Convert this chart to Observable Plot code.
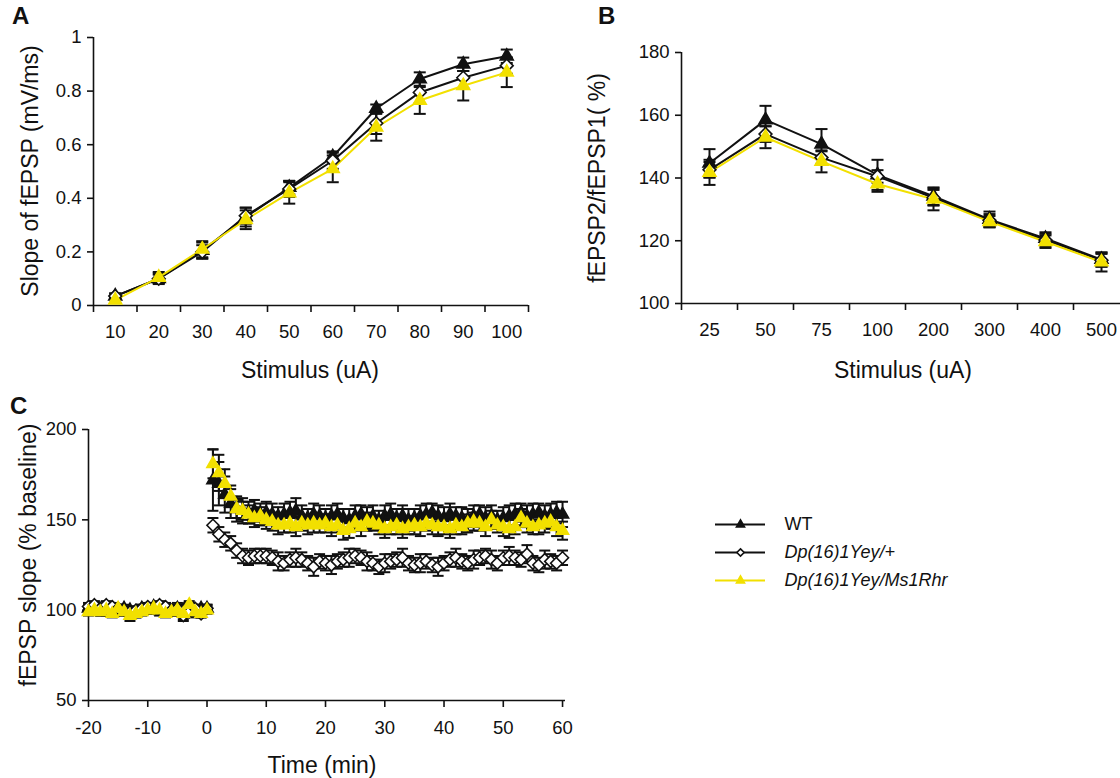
<!DOCTYPE html>
<html><head><meta charset="utf-8">
<script src="https://cdn.jsdelivr.net/npm/d3@7"></script>
<script src="https://cdn.jsdelivr.net/npm/@observablehq/plot@0.6"></script>
<style>
html,body{margin:0;padding:0;background:#fff;overflow:hidden;width:1120px;height:778px}
#root{position:relative;width:1120px;height:778px;font-family:"Liberation Sans",Arial,sans-serif;color:#111;overflow:hidden}
.wrap{position:absolute}
.title{position:absolute;font-size:23px;transform:translate(-50%,-50%);white-space:nowrap}
.ytitle{position:absolute;font-size:23px;transform:translate(-50%,-50%) rotate(-90deg);white-space:nowrap}
.letter{position:absolute;font-size:24px;font-weight:bold}
</style></head><body><div id="root"></div>
<script>
// ---------- DATA ----------
const seriesNames = ["WT", "Dp(16)1Yey/+", "Dp(16)1Yey/Ms1Rhr"];

// Panel A: input-output
const catsA = ["10","20","30","40","50","60","70","80","90","100"];
const yTicksA = [0, 0.2, 0.4, 0.6, 0.8, 1];
const wtA    = [0.035,0.10,0.205,0.33,0.44,0.555,0.735,0.845,0.90,0.93];
const wtAerr = [0.01,0.015,0.03,0.035,0.025,0.02,0.015,0.025,0.025,0.025];
const dpA    = [0.035,0.10,0.20,0.335,0.435,0.54,0.68,0.795,0.85,0.895];
const dpAerr = [0.01,0.02,0.025,0.03,0.03,0.03,0.04,0.04,0.04,0.03];
const msA    = [0.02,0.105,0.21,0.32,0.42,0.51,0.665,0.765,0.82,0.87];
const msAerr = [0.01,0.02,0.03,0.035,0.04,0.05,0.05,0.05,0.055,0.055];

// Panel B: paired-pulse
const catsB = ["25","50","75","100","200","300","400","500"];
const yTicksB = [100, 120, 140, 160, 180];
const wtB    = [144.7,158.5,150.8,141,134.2,126.8,120.7,114];
const wtBerr = [4.5,4.5,4.8,4.8,2.8,2.5,2,2.3];
const dpB    = [142.6,154,146.5,140.5,133.7,126.5,120.2,113.8];
const dpBerr = [2.5,2.5,2,2,2.5,2,2,2];
const msB    = [141.8,153,145.3,138.1,133.2,126.1,119.7,113.2];
const msBerr = [4,3.5,3.5,2.5,3.5,1.8,2,3];

// Panel C: LTP time course
const xTicksC = [-20,-10,0,10,20,30,40,50,60];
const yTicksC = [50,100,150,200];
const timeC = [-20,-19,-18,-17,-16,-15,-14,-13,-12,-11,-10,-9,-8,-7,-6,-5,-4,-3,-2,-1,0,
  1,2,3,4,5,6,7,8,9,10,11,12,13,14,15,16,17,18,19,20,21,22,23,24,25,26,27,28,29,30,
  31,32,33,34,35,36,37,38,39,40,41,42,43,44,45,46,47,48,49,50,51,52,53,54,55,56,57,58,59,60];
const wtC = [101,102,100,101,99,100,101,100,99,101,100,102,101,100,99,101,100,102,99,101,101,
  172,170,164,159,156,155,154,155,153,154,
  153,152,153,154,155,152,151,153,152,151,
  152,153,151,150,152,153,151,152,150,152,
  153,151,152,150,151,152,153,154,152,151,
  153,152,151,150,152,153,151,152,150,151,
  152,153,154,152,153,154,152,153,154,153];
const wtCerr = [2,2,3,2,2,3,2,2,3,2,2,2,3,2,2,3,2,2,3,2,2,
  17,12,10,8,7,7,6,6,6,6,
  6,5,6,6,7,6,5,6,6,5,
  6,6,5,6,6,5,6,6,5,6,
  6,5,6,6,5,6,6,5,6,6,
  6,5,6,6,6,5,6,6,5,6,
  6,6,5,6,6,5,6,6,6,7];
const dpC = [102,103,101,103,102,101,100,99,100,101,102,101,103,102,100,101,97,99,101,98,101,
  147,142,139,137,133,130,129,130,130,130,
  129,127,126,128,129,128,126,124,127,126,
  125,127,128,129,130,129,127,126,124,126,
  127,128,129,126,125,126,127,125,124,126,
  128,129,127,126,128,129,130,128,126,129,
  130,129,128,131,126,125,128,127,126,129];
const dpCerr = [2,2,2,2,2,2,2,2,2,2,2,2,2,2,2,2,3,2,2,2,2,
  4,4,4,4,4,4,4,4,4,4,
  4,5,4,4,5,4,4,5,4,4,
  5,4,4,5,4,4,5,4,4,5,
  4,4,5,4,4,5,4,4,5,4,
  4,5,4,4,5,4,4,5,4,4,
  5,4,4,5,4,4,5,4,4,4];
const msC = [99,100,99,100,98,101,99,97,98,99,100,101,100,98,99,100,98,103,99,98,100,
  181,176,170,163,156,155,153,151,152,150,
  149,147,147,148,146,148,147,148,147,148,
  146,147,144,145,148,146,149,148,147,145,
  146,147,145,146,147,146,148,147,146,146,
  145,147,146,148,149,148,146,150,147,146,
  145,146,151,148,146,147,148,149,146,144];
const msCerr = [2,2,2,3,2,2,2,3,2,2,2,2,3,2,2,2,3,2,2,2,2,
  8,10,8,6,5,5,5,5,5,5,
  5,5,4,5,5,4,5,5,4,5,
  5,4,5,5,4,5,5,4,5,5,
  4,5,5,4,5,5,4,5,5,4,
  5,5,4,5,5,4,5,5,4,5,
  5,4,5,5,4,5,5,4,5,5];

// ---------- STYLE ----------
const YELLOW = "#f2e000";
const INK = "#111";
const TICKFS = 18.5;
const styles = {
  "WT": {line: INK, symbol: "triangle", fill: INK, stroke: INK, k: 1},
  "Dp(16)1Yey/+": {line: INK, symbol: "diamond2", fill: "#fff", stroke: INK, k: 1.2},
  "Dp(16)1Yey/Ms1Rhr": {line: YELLOW, symbol: "triangle", fill: YELLOW, stroke: YELLOW, k: 1}
};
const FONT = '"Liberation Sans", Arial, sans-serif';
const capSymbol = hw => ({draw(ctx) { ctx.moveTo(-hw, 0); ctx.lineTo(hw, 0); }});

function rows(xs, vals, errs, key) {
  return vals.map((v, i) => ({x: xs[i], y: v, lo: v - errs[i], hi: v + errs[i], key}));
}

function seriesMarks(data, {withLine, r, capHW, markerStroke}) {
  const m = [];
  const cap = capSymbol(capHW);
  for (const d of data) {
    m.push(Plot.ruleX(d, {x: "x", y1: "lo", y2: "hi", stroke: INK, strokeWidth: 2}));
    m.push(Plot.dot(d, {x: "x", y: "hi", symbol: cap, r: 3, fill: "none", stroke: INK, strokeWidth: 2}));
    m.push(Plot.dot(d, {x: "x", y: "lo", symbol: cap, r: 3, fill: "none", stroke: INK, strokeWidth: 2}));
  }
  if (withLine) for (const d of data) {
    const s = styles[d[0].key];
    m.push(Plot.line(d, {x: "x", y: "y", stroke: s.line, strokeWidth: 2}));
  }
  for (const d of data) {
    const s = styles[d[0].key];
    m.push(Plot.dot(d, {x: "x", y: "y", symbol: s.symbol, r: r * s.k, fill: s.fill, stroke: s.stroke, strokeWidth: markerStroke}));
  }
  return m;
}

const root = document.getElementById("root");
function place(el, left, top, w) {
  const div = document.createElement("div");
  div.className = "wrap";
  div.style.left = left + "px"; div.style.top = top + "px"; div.style.width = w + "px";
  div.appendChild(el); root.appendChild(div);
}
function addText(cls, text, x, y, extra) {
  const d = document.createElement("div");
  d.className = cls; d.textContent = text;
  d.style.left = x + "px"; d.style.top = y + "px";
  if (extra) Object.assign(d.style, extra);
  root.appendChild(d);
}
const svgStyle = {fontFamily: FONT, fontSize: TICKFS + "px", color: INK, background: "transparent", overflow: "visible"};

// ---------- PANEL A ----------
{
  const xs = catsA.map((c, i) => i + 1);
  const data = [rows(xs, wtA, wtAerr, "WT"), rows(xs, dpA, dpAerr, "Dp(16)1Yey/+"), rows(xs, msA, msAerr, "Dp(16)1Yey/Ms1Rhr")];
  const bounds = d3.range(0.5, catsA.length + 1, 1);
  const p = Plot.plot({
    width: 560, height: 360,
    marginLeft: 93, marginRight: 32, marginTop: 37, marginBottom: 55,
    style: svgStyle,
    x: {domain: [0.5, catsA.length + 0.5]},
    y: {domain: [0, 1]},
    marks: [
      Plot.axisY({ticks: yTicksA, tickSize: 6, tickPadding: 6, tickFormat: d => String(d), label: null, strokeWidth: 1.6, fontSize: TICKFS}),
      Plot.axisX({ticks: bounds, tickSize: 7, tickFormat: () => "", label: null, strokeWidth: 1.6}),
      Plot.axisX({ticks: xs, tickSize: 0, tickPadding: 19, tickFormat: i => catsA[i - 1], label: null, fontSize: TICKFS}),
      Plot.ruleY([0], {stroke: INK, strokeWidth: 1.6}),
      Plot.ruleX([0.5], {y1: 0, y2: 1, stroke: INK, strokeWidth: 1.6}),
      ...seriesMarks(data, {withLine: true, r: 4.8, capHW: 6, markerStroke: 1.6})
    ]
  });
  place(p, 0, 0, 560);
  addText("title", "Stimulus (uA)", 310, 370);
  addText("ytitle", "Slope of fEPSP (mV/ms)", 30, 171);
  addText("letter", "A", 12, 2);
}

// ---------- PANEL B ----------
{
  const xs = catsB.map((c, i) => i + 1);
  const data = [rows(xs, wtB, wtBerr, "WT"), rows(xs, dpB, dpBerr, "Dp(16)1Yey/+"), rows(xs, msB, msBerr, "Dp(16)1Yey/Ms1Rhr")];
  const bounds = d3.range(0.5, catsB.length + 1, 1);
  const p = Plot.plot({
    width: 580, height: 360,
    marginLeft: 121, marginRight: 11, marginTop: 52, marginBottom: 57,
    style: svgStyle,
    x: {domain: [0.5, catsB.length + 0.5]},
    y: {domain: [100, 180]},
    marks: [
      Plot.axisY({ticks: yTicksB, tickSize: 6, tickPadding: 6, label: null, strokeWidth: 1.6, fontSize: TICKFS}),
      Plot.axisX({ticks: bounds, tickSize: 7, tickFormat: () => "", label: null, strokeWidth: 1.6}),
      Plot.axisX({ticks: xs, tickSize: 0, tickPadding: 19, tickFormat: i => catsB[i - 1], label: null, fontSize: TICKFS}),
      Plot.ruleY([100], {stroke: INK, strokeWidth: 1.6}),
      Plot.ruleX([0.5], {y1: 100, y2: 180, stroke: INK, strokeWidth: 1.6}),
      ...seriesMarks(data, {withLine: true, r: 4.8, capHW: 6, markerStroke: 1.6})
    ]
  });
  place(p, 560, 0, 580);
  addText("title", "Stimulus (uA)", 903, 370);
  addText("ytitle", "fEPSP2/fEPSP1( %)", 597, 178);
  addText("letter", "B", 598, 2);
}

// ---------- PANEL C ----------
{
  const data = [rows(timeC, wtC, wtCerr, "WT"), rows(timeC, dpC, dpCerr, "Dp(16)1Yey/+"), rows(timeC, msC, msCerr, "Dp(16)1Yey/Ms1Rhr")];
  const p = Plot.plot({
    width: 600, height: 388,
    marginLeft: 88, marginRight: 35, marginTop: 39, marginBottom: 78,
    style: svgStyle,
    x: {domain: [-20, 60.5]},
    y: {domain: [50, 200]},
    marks: [
      Plot.axisY({ticks: yTicksC, tickSize: 6, tickPadding: 6, label: null, strokeWidth: 1.6, fontSize: TICKFS}),
      Plot.axisX({ticks: xTicksC, tickSize: 7, tickPadding: 13, tickFormat: d => String(d), label: null, strokeWidth: 1.6, fontSize: TICKFS}),
      Plot.ruleY([50], {stroke: INK, strokeWidth: 1.6}),
      Plot.ruleX([-20], {y1: 50, y2: 200, stroke: INK, strokeWidth: 1.6}),
      ...seriesMarks(data, {withLine: false, r: 4.5, capHW: 5.5, markerStroke: 1.6})
    ]
  });
  place(p, 0, 390, 600);
  addText("title", "Time (min)", 322, 765);
  addText("ytitle", "fEPSP slope (% baseline)", 28, 555);
  addText("letter", "C", 10, 392);
}

// ---------- LEGEND ----------
{
  const leg = seriesNames.map(k => ({key: k}));
  const p = Plot.plot({
    width: 320, height: 95, margin: 0,
    style: svgStyle,
    x: {domain: [0, 1], range: [15, 65], axis: null},
    y: {type: "point", padding: 0, domain: seriesNames, range: [18, 75], axis: null},
    marks: [
      Plot.ruleY(leg, {y: "key", x1: 0, x2: 1, stroke: d => styles[d.key].line, strokeWidth: 2}),
      Plot.dot(leg, {x: 0.5, y: "key", symbol: d => styles[d.key].symbol, r: d => 4.6 * styles[d.key].k,
        fill: d => styles[d.key].fill, stroke: d => styles[d.key].stroke, strokeWidth: 1.6}),
      Plot.text(leg.filter(d => d.key === "WT"), {x: 1, y: "key", text: "key", dx: 19, textAnchor: "start", fill: INK, fontSize: 18}),
      Plot.text(leg.filter(d => d.key !== "WT"), {x: 1, y: "key", text: "key", dx: 19, textAnchor: "start", fill: INK, fontSize: 18, fontStyle: "italic"})
    ]
  });
  place(p, 700, 505, 320);
}
</script>
</body></html>
